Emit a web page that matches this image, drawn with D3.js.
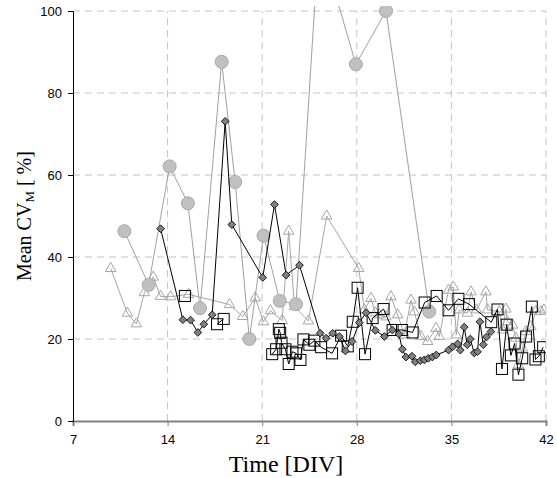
<!DOCTYPE html>
<html>
<head>
<meta charset="utf-8">
<script src="https://cdn.jsdelivr.net/npm/d3@7"></script>
<style>
  body { margin: 0; background: #fff; }
  svg { display: block; }
  .tick text { font-family: "Liberation Sans", Arial, sans-serif; font-size: 13px; fill: #000; }
  .title { font-family: "Liberation Serif", "Times New Roman", serif; fill: #000; }
</style>
</head>
<body>
<svg id="chart"></svg>
<script>
// tick values
var xTicks = [7, 14, 21, 28, 35, 42];
var yTicks = [0, 20, 40, 60, 80, 100];

// series: gray circles
var circleX = [10.8, 12.6, 14.15, 15.5, 16.4, 18.0, 19.0, 20.05, 21.1, 22.3, 23.5, 25.2, 27.93, 30.16, 33.36];
var circleY = [46.3, 33.2, 62.1, 53.1, 27.5, 87.6, 58.3, 20.0, 45.2, 29.3, 28.5, 118, 87.0, 100, 26.7];

// series: open triangles
var triX = [9.79, 11.02, 11.69, 12.28, 12.94, 13.48, 14.22, 15.55, 18.58, 19.56, 20.49, 21.09, 21.61,
  22.48, 22.96, 23.39, 24.42, 25.77, 28.14, 28.56, 29.05, 29.37, 29.67, 30.16, 30.53, 31.02, 31.52,
  32.01, 32.26, 32.75, 33.24, 33.86, 34.10, 34.79, 35.14, 35.36, 35.58, 36.19, 36.45, 36.86, 37.55,
  37.67, 38.54, 38.78, 39.03, 39.15, 39.52, 39.77, 39.96, 40.26, 40.51, 40.88, 41.25, 41.62, 41.86];
var triY = [37.2, 26.3, 23.7, 31.3, 35.1, 30.4, 30.3, 30.9, 28.4, 25.5, 30.0, 24.2, 26.9,
  24.5, 46.3, 27.9, 24.4, 50.0, 37.2, 27.1, 29.9, 26.4, 25.9, 25.4, 30.3, 25.9, 21.0,
  29.5, 26.6, 20.6, 19.4, 22.6, 20.6, 31.9, 32.7, 21.0, 27.1, 26.3, 31.5, 27.1, 31.5,
  27.1, 26.7, 22.2, 27.3, 24.2, 23.4, 20.2, 13.7, 17.8, 21.8, 23.0, 26.7, 26.7, 27.1];

// series: dark diamonds
var diaX = [13.48, 15.13, 15.70, 16.24, 16.68, 17.30, 18.26, 18.75, 21.04, 21.91, 22.77, 23.76,
  25.29, 25.73, 26.22, 26.71, 27.16, 27.65, 28.19, 28.69, 29.37, 30.04, 30.63, 31.11, 31.37,
  31.64, 32.08, 32.33, 32.70, 33.0, 33.29, 33.59, 33.88, 34.79, 35.09, 35.46, 35.66, 35.95,
  36.17, 36.40, 36.69, 36.93, 37.11, 37.36, 37.60, 37.92];
var diaY = [46.9, 24.7, 24.6, 21.6, 23.6, 25.9, 73.1, 47.9, 35.0, 52.8, 35.6, 38.0,
  21.4, 20.2, 21.4, 20.6, 17.1, 19.4, 24.0, 26.4, 22.1, 20.6, 22.2, 21.2, 17.5,
  15.6, 15.8, 14.4, 14.7, 14.9, 15.3, 15.6, 16.1, 17.3, 18.1, 18.8, 17.3, 22.9,
  18.6, 20.0, 16.6, 16.9, 24.2, 18.6, 20.5, 21.8];

// series: open squares (null = gap in the line)
var sqX = [15.28, null, 17.66, 18.15, null, 21.74, 22.03, 22.23, 22.33, 22.43, 22.72, 22.96, 23.24,
  23.51, 23.83, 24.05, 24.49, 24.86, 25.36, 26.17, 26.84, 27.33, 27.70, 28.06, 28.61, 29.17,
  29.98, 30.65, 31.35, 32.13, 33.02, 33.91, 34.79, 35.52, 36.30, 37.95, 38.41, 38.74, 39.09,
  39.40, 39.68, 39.96, 40.24, 40.53, 40.95, 41.22, 41.47, 41.79];
var sqY = [30.5, null, 23.6, 24.9, null, 16.3, 17.5, 22.4, 21.5, 19.1, 17.5, 13.9, 16.9,
  16.5, 14.9, 19.9, 18.6, 19.6, 18.0, 16.5, 20.8, 18.2, 24.2, 32.5, 16.3, 25.1,
  27.3, 22.2, 22.2, 21.6, 28.9, 30.5, 27.0, 29.8, 28.5, 24.1, 27.2, 12.7, 23.5,
  16.0, 18.9, 11.3, 15.3, 20.6, 27.9, 15.0, 15.8, 18.0];

var width = 557, height = 478;
var margin = { top: 11, right: 11, bottom: 57, left: 73 };

var svg = d3.select("#chart")
  .attr("width", width)
  .attr("height", height);

var x = d3.scaleLinear().domain([7, 42]).range([margin.left, width - margin.right]);
var y = d3.scaleLinear().domain([0, 100]).range([height - margin.bottom, margin.top]);

function zip(xs, ys) {
  return xs.map((v, i) => ({ x: v, y: ys[i] }));
}

// gridlines
svg.append("g")
  .selectAll("line")
  .data(xTicks.slice(1))
  .join("line")
    .attr("x1", d => x(d)).attr("x2", d => x(d))
    .attr("y1", y(0)).attr("y2", y(100))
    .attr("stroke", "#c4c4c4")
    .attr("stroke-dasharray", "7,5");

svg.append("g")
  .selectAll("line")
  .data(yTicks.slice(1))
  .join("line")
    .attr("x1", x(7)).attr("x2", x(42))
    .attr("y1", d => y(d)).attr("y2", d => y(d))
    .attr("stroke", "#c4c4c4")
    .attr("stroke-dasharray", "7,5");

// axes
var xAxis = svg.append("g")
  .attr("transform", "translate(0," + y(0) + ")")
  .call(d3.axisBottom(x).tickValues(xTicks).tickSize(5).tickPadding(9));
xAxis.select(".domain").attr("stroke", "#808080").attr("stroke-width", 2);
xAxis.selectAll(".tick line").attr("stroke", "#808080");

var yAxis = svg.append("g")
  .attr("transform", "translate(" + x(7) + ",0)")
  .call(d3.axisLeft(y).tickValues(yTicks).tickSize(5).tickPadding(6));
yAxis.select(".domain").attr("stroke", "#000");

// clip for lines going above the frame
svg.append("clipPath").attr("id", "clip")
  .append("rect")
    .attr("x", margin.left).attr("y", 6)
    .attr("width", width - margin.left - margin.right)
    .attr("height", y(0) - 6);

var line = d3.line()
  .defined(d => d.x != null && d.y != null)
  .x(d => x(d.x))
  .y(d => y(d.y));

var plot = svg.append("g").attr("clip-path", "url(#clip)");

var circles = zip(circleX, circleY);
var tris = zip(triX, triY);
var dias = zip(diaX, diaY);
var sqs = zip(sqX, sqY);

// triangles
plot.append("path").datum(tris)
  .attr("d", line).attr("fill", "none").attr("stroke", "#a6a6a6").attr("stroke-width", 1);
plot.selectAll(".tri")
  .data(tris)
  .join("path")
    .attr("class", "tri")
    .attr("d", d3.symbol(d3.symbolTriangle, 48))
    .attr("transform", d => "translate(" + x(d.x) + "," + y(d.y) + ")")
    .attr("fill", "none")
    .attr("stroke", "#a6a6a6");

// circles
plot.append("path").datum(circles)
  .attr("d", line).attr("fill", "none").attr("stroke", "#a0a0a0").attr("stroke-width", 1);
plot.selectAll(".circ")
  .data(circles.filter(d => d.y <= 100))
  .join("circle")
    .attr("class", "circ")
    .attr("cx", d => x(d.x))
    .attr("cy", d => y(d.y))
    .attr("r", 6.5)
    .attr("fill", "#c0c0c0")
    .attr("stroke", "#a8a8a8");

// squares
plot.append("path").datum(sqs)
  .attr("d", line).attr("fill", "none").attr("stroke", "#000").attr("stroke-width", 1);
plot.selectAll(".sq")
  .data(sqs.filter(d => d.x != null))
  .join("rect")
    .attr("class", "sq")
    .attr("x", d => x(d.x) - 5.5)
    .attr("y", d => y(d.y) - 5.5)
    .attr("width", 11)
    .attr("height", 11)
    .attr("fill", "none")
    .attr("stroke", "#000");

// diamonds
plot.append("path").datum(dias)
  .attr("d", line).attr("fill", "none").attr("stroke", "#000").attr("stroke-width", 1);
plot.selectAll(".dia")
  .data(dias)
  .join("path")
    .attr("class", "dia")
    .attr("d", d3.symbol(d3.symbolSquare, 30))
    .attr("transform", d => "translate(" + x(d.x) + "," + y(d.y) + ") rotate(45)")
    .attr("fill", "#808080")
    .attr("stroke", "#000")
    .attr("stroke-width", 0.8);

// axis titles
svg.append("text")
  .attr("class", "title")
  .attr("x", 286)
  .attr("y", 472)
  .attr("text-anchor", "middle")
  .style("font-size", "24px")
  .text("Time [DIV]");

var yt = svg.append("text")
  .attr("class", "title")
  .attr("transform", "translate(31," + ((margin.top + y(0)) / 2) + ") rotate(-90)")
  .attr("text-anchor", "middle")
  .style("font-size", "20px");
yt.append("tspan").text("Mean CV");
yt.append("tspan").attr("dy", 3).style("font-size", "13px").text("M");
yt.append("tspan").attr("dy", -3).text(" [ %]");
</script>
</body>
</html>
